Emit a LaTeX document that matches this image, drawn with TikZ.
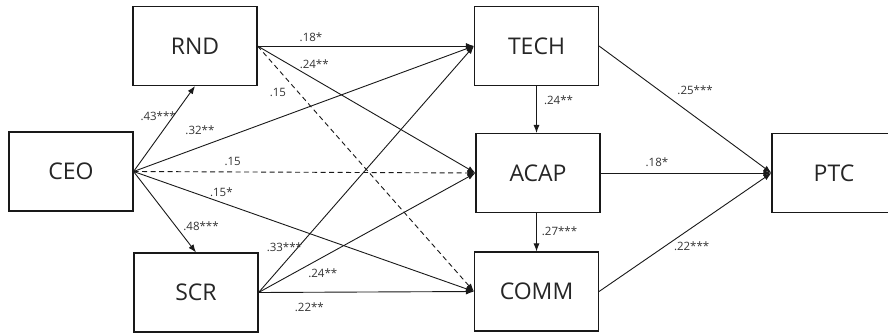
\documentclass[tikz,border=0pt]{standalone}
\usepackage{fontspec}
\setmainfont{Open Sans}
\usetikzlibrary{arrows.meta}
\begin{document}
\begin{tikzpicture}[x=1pt,y=-1pt,
  box/.style={draw=black!90, line width=1.1pt, minimum width=124pt, minimum height=79pt,
    inner sep=0pt, font=\fontsize{23}{26}\selectfont, text=black!85},
  link/.style={draw=black!90, line width=0.9pt, -{Latex[length=8pt,width=6pt]}},
  dlink/.style={link, dash pattern=on 5pt off 3.5pt},
  lab/.style={font=\fontsize{11.5}{13}\selectfont, text=black!80, inner sep=0pt}]
\useasboundingbox (0,0) rectangle (888,335);
\clip (0,0) rectangle (888,335);
\fill[white] (0,0) rectangle (888,335);

\node[box] (CEO)  at (71,171.5)  {CEO};
\node[box] (RND)  at (195,46)    {RND};
\node[box] (SCR)  at (196,292.5) {SCR};
\node[box] (TECH) at (536.5,46)  {TECH};
\node[box] (ACAP) at (538,173)   {ACAP};
\node[box] (COMM) at (536.5,291.5) {COMM};
\node[box] (PTC)  at (834,173)   {PTC};

% from CEO
\draw[link] (CEO.east) -- (RND.south) node[lab, pos=0.40, yshift=21.5pt] {.43***};
\draw[link] (CEO.east) -- (SCR.north) node[lab, pos=0.68, xshift=25pt] {.48***};
\draw[link] (CEO.east) -- (TECH.west) node[lab, pos=0.195, yshift=17pt] {.32**};
\draw[dlink] (CEO.east) -- (ACAP.west) node[lab, pos=0.29, yshift=10.5pt] {.15};
\draw[link] (CEO.east) -- (COMM.west) node[lab, pos=0.258, yshift=10.7pt] {.15*};

% from RND
\draw[link] (RND.east) -- (TECH.west) node[lab, pos=0.247, yshift=9pt] {.18*};
\draw[link] (RND.east) -- (ACAP.west) node[lab, pos=0.26, yshift=14.6pt] {.24**};
\draw[dlink] (RND.east) -- (COMM.west) node[lab, pos=0.094, yshift=-23pt] {.15};

% from SCR
\draw[link] (SCR.east) -- (TECH.west) node[lab, pos=0.12, yshift=15.4pt] {.33***};
\draw[link] (SCR.east) -- (ACAP.west) node[lab, pos=0.296, yshift=-15.8pt] {.24**};
\draw[link] (SCR.east) -- (COMM.west) node[lab, pos=0.236, yshift=-14.5pt] {.22**};

% mediators
\draw[link] (TECH.south) -- (TECH.south |- ACAP.north) node[lab, pos=0.31, xshift=22pt] {.24**};
\draw[link] (TECH.south |- ACAP.south) -- (COMM.north) node[lab, pos=0.46, xshift=23pt] {.27***};

% to PTC
\draw[link] (TECH.east) -- (PTC.west) node[lab, pos=0.557, yshift=26.8pt] {.25***};
\draw[link] (ACAP.east) -- (PTC.west) node[lab, pos=0.33, yshift=10.5pt] {.18*};
\draw[link] (COMM.east) -- (PTC.west) node[lab, pos=0.537, yshift=-18.4pt] {.22***};
\end{tikzpicture}
\end{document}
